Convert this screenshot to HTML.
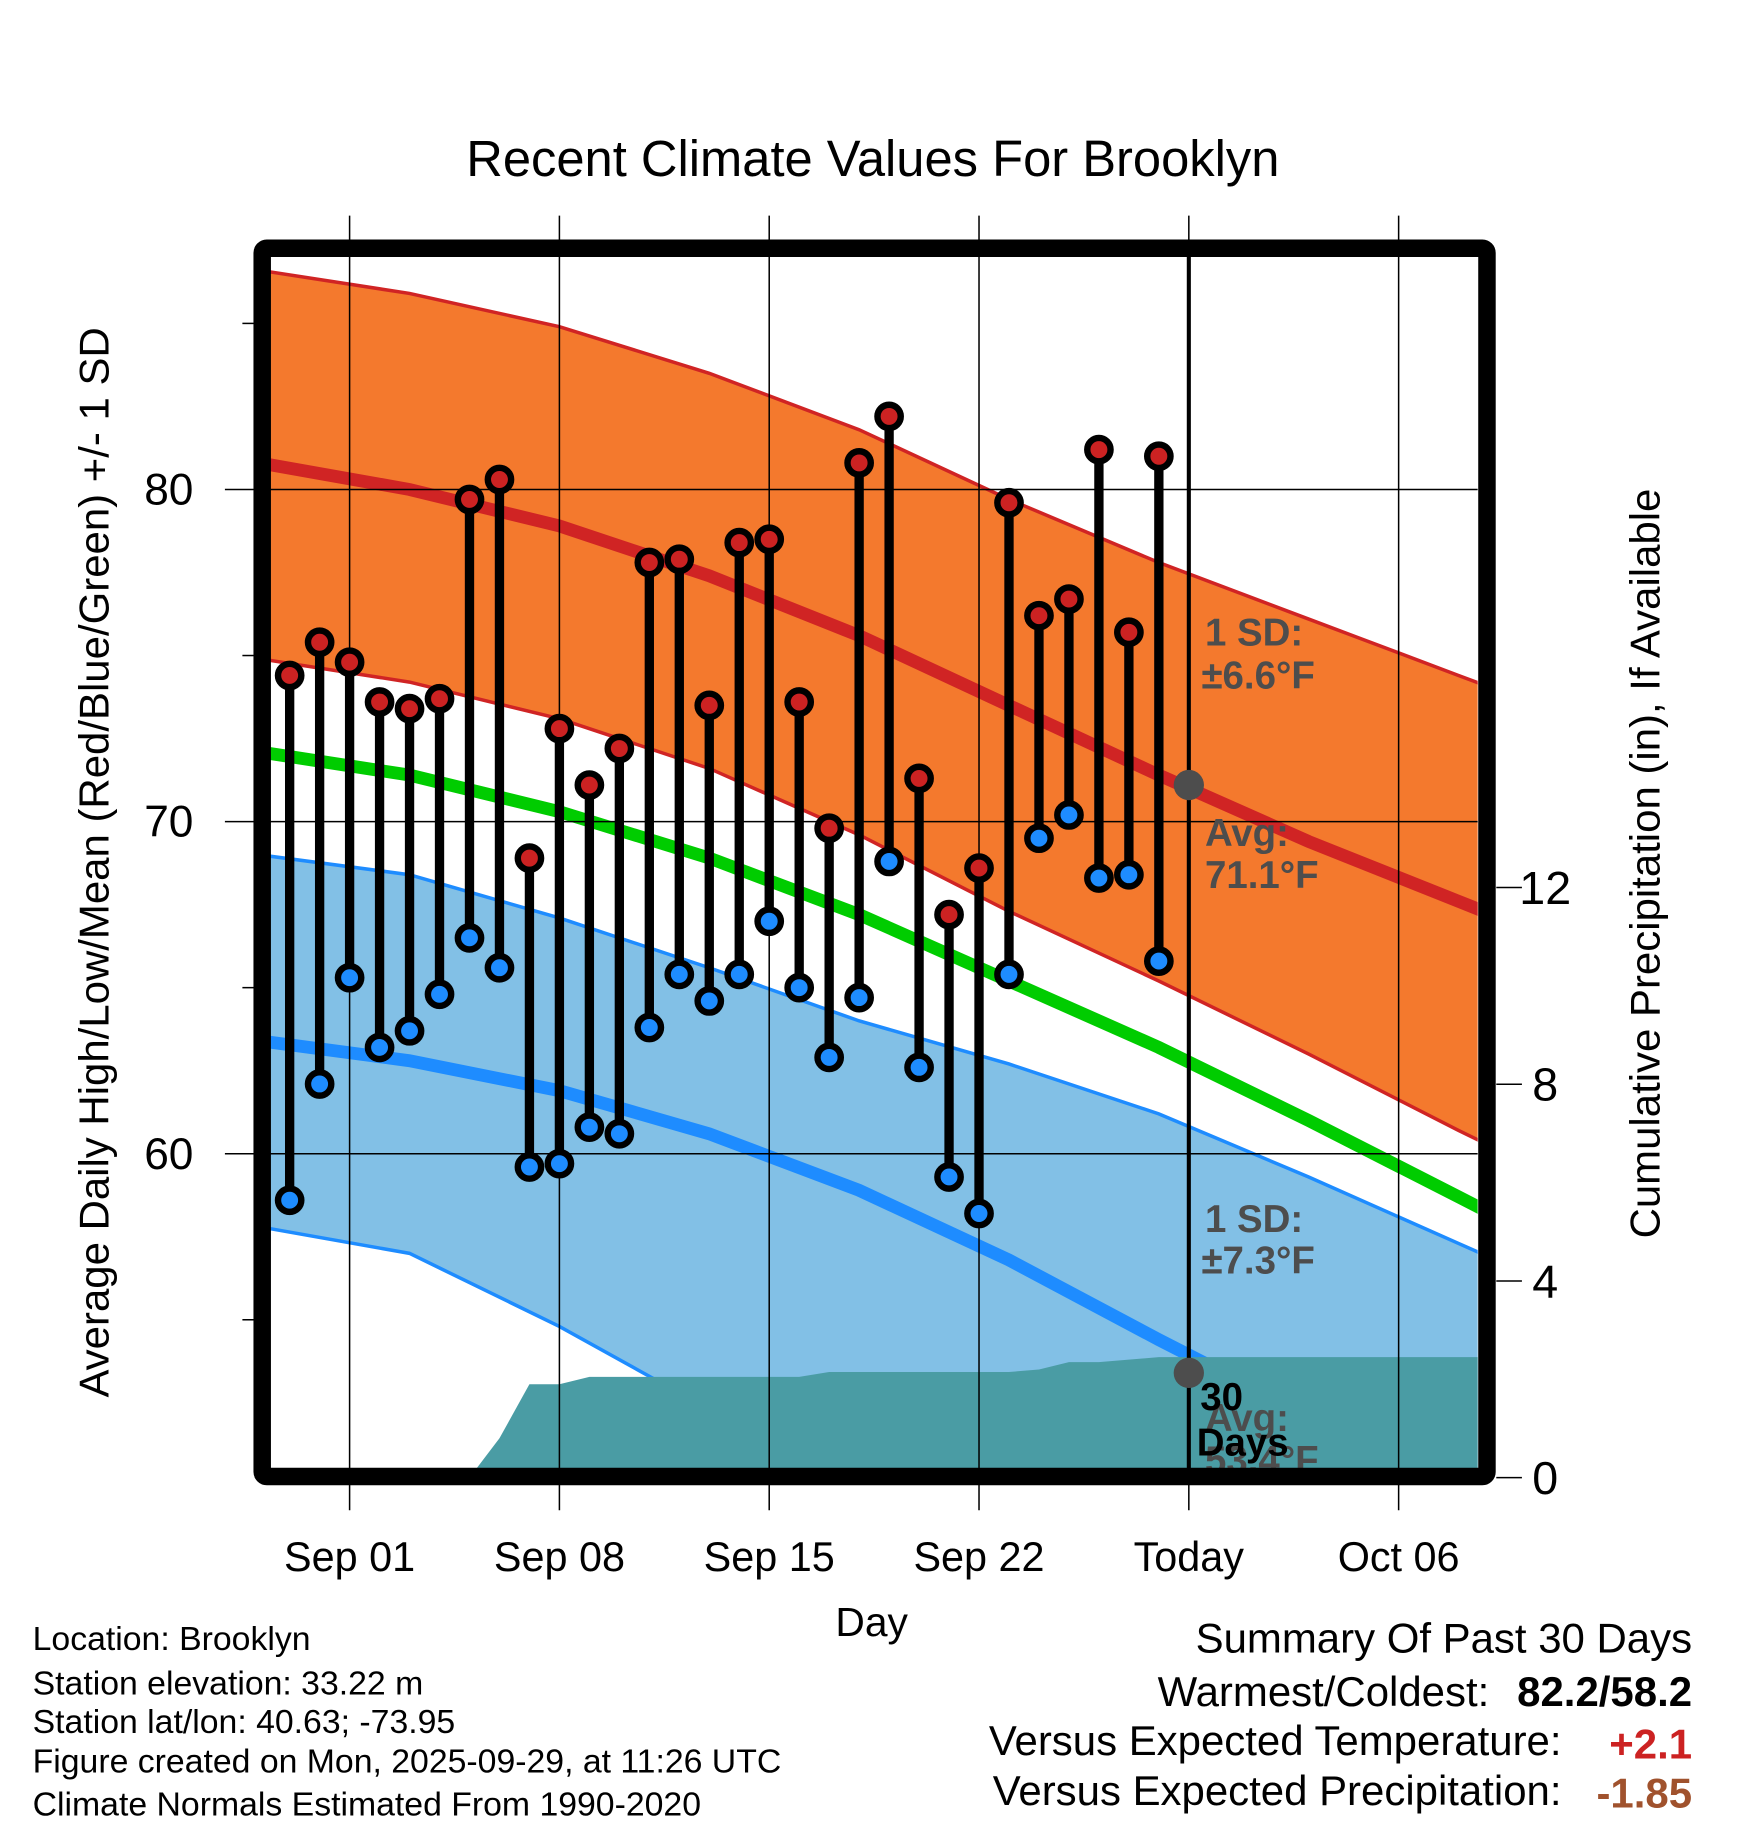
<!DOCTYPE html>
<html><head><meta charset="utf-8">
<style>
html,body{margin:0;padding:0;background:#fff;}
svg{display:block;font-family:"Liberation Sans",Arial,sans-serif;}
</style></head>
<body>
<svg id="chart" width="1748" height="1828" viewBox="0 0 1500 1568.6" xmlns="http://www.w3.org/2000/svg">
<rect width="1500" height="1568.6" fill="#fff"/>
<defs><clipPath id="pc"><rect x="232" y="220" width="1036" height="1040"/></clipPath></defs>
<g id="plot" clip-path="url(#pc)"></g>
<g id="over"></g>
<text x="749" y="151" font-size="43.5" text-anchor="middle">Recent Climate Values For Brooklyn</text>
<text transform="translate(93,740) rotate(-90)" font-size="36" text-anchor="middle">Average Daily High/Low/Mean (Red/Blue/Green) +/- 1 SD</text>
<text transform="translate(1424,741) rotate(-90)" font-size="36" text-anchor="middle">Cumulative Precipitation (in), If Available</text>
<text x="748" y="1404" font-size="35" text-anchor="middle">Day</text>
<g font-size="29">
<text x="28" y="1416">Location: Brooklyn</text>
<text x="28" y="1454">Station elevation: 33.22 m</text>
<text x="28" y="1487">Station lat/lon: 40.63; -73.95</text>
<text x="28" y="1521">Figure created on Mon, 2025-09-29, at 11:26 UTC</text>
<text x="28" y="1558">Climate Normals Estimated From 1990-2020</text>
</g>
<g font-size="36">
<text x="1452" y="1418" text-anchor="end">Summary Of Past 30 Days</text>
<text x="1278" y="1464" text-anchor="end">Warmest/Coldest:</text>
<text x="1452" y="1464" text-anchor="end" font-weight="bold">82.2/58.2</text>
<text x="1340" y="1506" text-anchor="end">Versus Expected Temperature:</text>
<text x="1452" y="1509" text-anchor="end" font-weight="bold" fill="#cc2222">+2.1</text>
<text x="1340" y="1549" text-anchor="end">Versus Expected Precipitation:</text>
<text x="1452" y="1551" text-anchor="end" font-weight="bold" fill="#a0522d">-1.85</text>
</g>
</svg>
<script>
// daily observations Aug 30 .. Sep 28
const obsHigh=[74.4,75.4,74.8,73.6,73.4,73.7,79.7,80.3,68.9,72.8,71.1,72.2,77.8,77.9,73.5,78.4,78.5,73.6,69.8,80.8,82.2,71.3,67.2,68.6,79.6,76.2,76.7,81.2,75.7,81.0];
const obsLow=[58.6,62.1,65.3,63.2,63.7,64.8,66.5,65.6,59.6,59.7,60.8,60.6,63.8,65.4,64.6,65.4,67.0,65.0,62.9,64.7,68.8,62.6,59.3,58.2,65.4,69.5,70.2,68.3,68.4,65.8];
// normals every 5 days from Aug 29 to Oct 13
const normHigh=[80.8,80.0,78.9,77.4,75.6,73.5,71.4,69.4,67.6,65.8];
const normHighUp=[86.6,85.9,84.9,83.5,81.8,79.7,77.8,76.1,74.4,72.7];
const normHighLo=[74.9,74.2,73.1,71.6,69.6,67.3,65.2,63.0,60.7,58.5];
const normMean=[72.1,71.4,70.3,68.9,67.2,65.2,63.2,61.0,58.7,56.4];
const normLow=[63.4,62.8,61.9,60.6,58.9,56.8,54.4,52.1,49.9,47.7];
const normLowUp=[69.0,68.4,67.1,65.6,64.0,62.7,61.2,59.3,57.3,55.3];
const normLowLo=[57.8,57.0,54.8,52.3,50.0,47.5,45.0,43.0,41.0,39.0];
// cumulative precip daily from Aug 29 .. Oct 9
const precip=[0,0,0,0,0,0,0,0,0.8,1.9,1.9,2.05,2.05,2.05,2.05,2.05,2.05,2.05,2.05,2.15,2.15,2.15,2.15,2.15,2.15,2.15,2.2,2.35,2.35,2.4,2.45,2.45,2.45,2.45,2.45,2.45,2.45,2.45,2.45,2.45,2.45,2.45];
const xTickLabels=["Sep 01","Sep 08","Sep 15","Sep 22","Today","Oct 06"];
const yTicks=[60,70,80];
const yMinor=[55,65,75,85];
const pTicks=[0,4,8,12];

const NS="http://www.w3.org/2000/svg";
// day index: 0 = Aug 29
const X=d=>300+(d-3)*25.72;
const Y=v=>420-(v-80)*28.5;
const P=p=>1268-p*42.2;
const plot=document.getElementById('plot'), over=document.getElementById('over');
function mk(tag,attrs,parent){const e=document.createElementNS(NS,tag);for(const k in attrs)e.setAttribute(k,attrs[k]);parent.appendChild(e);return e;}
const pts=(arr,step,fy)=>arr.map((v,i)=>X(i*step).toFixed(1)+","+fy(v).toFixed(1));
function band(up,lo,fill,name){
  const p=mk('polygon',{points:pts(up,5,Y).concat(pts(lo,5,Y).reverse()).join(' '),fill:fill},plot);
  
  
}
function line(arr,stroke,w,name){
  const p=mk('polyline',{points:pts(arr,5,Y).join(' '),fill:'none',stroke:stroke,'stroke-width':w},plot);
  
  
}
band(normHighUp,normHighLo,'#f4792d','high-sd-band');
band(normLowUp,normLowLo,'#82c0e6','low-sd-band');
line(normHighUp,'#d02424',3,'high-upper-line');
line(normHighLo,'#d02424',3,'high-lower-line');
line(normLowUp,'#1e8cff',3,'low-upper-line');
line(normLowLo,'#1e8cff',3,'low-lower-line');
line(normHigh,'#d02424',11,'normal-high-line');
line(normMean,'#00cc00',11,'normal-mean-line');
line(normLow,'#1e8cff',11,'normal-low-line');
// precip area
{const a=precip.map((v,i)=>X(i).toFixed(1)+","+P(v).toFixed(1));
 const p=mk('polygon',{points:X(0)+","+P(0)+" "+a.join(' ')+" "+X(precip.length-1)+","+P(0),fill:'#4a9ca4'},plot);
 
 }
// grid
xTickLabels.forEach((t,i)=>{const x=X(3+7*i);
 const g=mk('line',{x1:x,x2:x,y1:185,y2:1296,stroke:'#000','stroke-width':1.3},over);
 
 
 const tx=mk('text',{x:x,y:1348,'font-size':35.5,'text-anchor':'middle'},over);tx.textContent=t;
 
 });
yTicks.forEach(v=>{const y=Y(v);
 const g=mk('line',{x1:193,x2:1268,y1:y,y2:y,stroke:'#000','stroke-width':1.3},over);
 
 
 const tx=mk('text',{x:166,y:y+13,'font-size':38,'text-anchor':'end'},over);tx.textContent=v;
 
 });
yMinor.forEach(v=>{const y=Y(v);const g=mk('line',{x1:208,x2:220,y1:y,y2:y,stroke:'#000','stroke-width':1.3},over);
 
 });
pTicks.forEach(v=>{const y=P(v);const g=mk('line',{x1:1284,x2:1306,y1:y,y2:y,stroke:'#000','stroke-width':1.3},over);
 
 
 const tx=mk('text',{x:1326,y:y+14,'font-size':40,'text-anchor':'middle'},over);tx.textContent=v;
 
 });
// today line
{const t=mk('line',{x1:X(31),x2:X(31),y1:220,y2:1262,stroke:'#000','stroke-width':3.5},over);
 
 }
// observations
obsHigh.forEach((h,i)=>{const x=X(i+1),l=obsLow[i];
 const s=mk('line',{x1:x,x2:x,y1:Y(h),y2:Y(l),stroke:'#000','stroke-width':8},over);
 
 
 const c1=mk('circle',{cx:x,cy:Y(h),r:10,fill:'#cc2222',stroke:'#000','stroke-width':5.5},over);
 
 
 const c2=mk('circle',{cx:x,cy:Y(l),r:10,fill:'#1e8cff',stroke:'#000','stroke-width':5.5},over);
 
 });
// today markers
[71.1,53.4].forEach(v=>{const c=mk('circle',{cx:X(31),cy:Y(v),r:13,fill:'#4d4d4d'},over);
 
 });
// annotations
function txt(s,x,y,fill,name){const t=mk('text',{x:x,y:y,'font-size':33,'font-weight':'bold',fill:fill},over);t.textContent=s;
 
 }
txt('1 SD:',1034,554,'#4d4d4d','high-sd-label');
txt('±6.6°F',1031,591,'#4d4d4d','high-sd-value');
txt('Avg:',1034,726,'#4d4d4d','high-avg-label');
txt('71.1°F',1034,762,'#4d4d4d','high-avg-value');
txt('1 SD:',1034,1057,'#4d4d4d','low-sd-label');
txt('±7.3°F',1031,1093,'#4d4d4d','low-sd-value');
txt('Avg:',1034,1228,'#4d4d4d','low-avg-label');
txt('53.4°F',1034,1264,'#4d4d4d','low-avg-value');
txt('30',1030,1210,'#000','precip-days-label');
txt('Days',1027,1249,'#000','precip-days-label-2');
// frame
{const f=mk('rect',{x:225,y:213,width:1051,height:1054,rx:4,fill:'none',stroke:'#000','stroke-width':15},over);
 
 }
</script>
</body></html>
